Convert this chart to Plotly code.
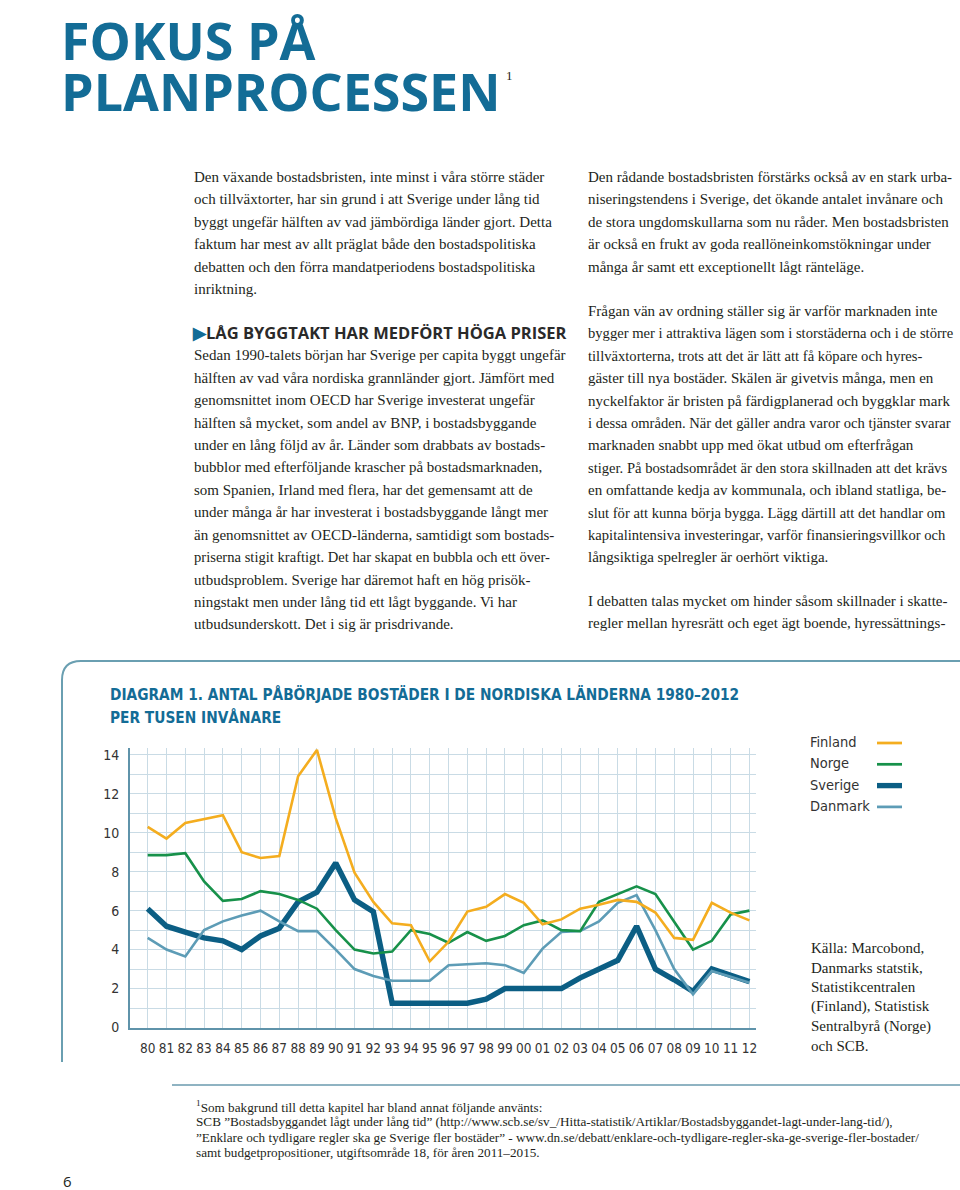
import plotly.graph_objects as go

# ---------------- data ----------------
years = list(range(1980, 2013))
year_labels = [f"{y % 100:02d}" for y in years]

finland = [10.3, 9.7, 10.5, 10.7, 10.9, 9.0, 8.7, 8.8, 12.9, 14.25, 10.75, 7.95, 6.45, 5.35, 5.25, 3.4,
           4.4, 5.95, 6.2, 6.85, 6.4, 5.3, 5.55, 6.1, 6.3, 6.55, 6.45, 5.9, 4.6, 4.5, 6.4, 5.9, 5.5]
norge = [8.85, 8.85, 8.95, 7.5, 6.5, 6.6, 7.0, 6.85, 6.55, 6.1, 5.0, 4.0, 3.8, 3.9, 5.0, 4.8,
         4.35, 4.9, 4.45, 4.7, 5.25, 5.5, 5.0, 4.95, 6.45, 6.85, 7.25, 6.85, 5.4, 4.0, 4.45, 5.8, 6.0]
sverige = [6.1, 5.2, 4.9, 4.6, 4.45, 4.0, 4.7, 5.1, 6.45, 6.95, 8.45, 6.55, 5.95, 1.25, 1.25, 1.25,
           1.25, 1.25, 1.45, 2.0, 2.0, 2.0, 2.0, 2.55, 3.0, 3.45, 5.2, 3.0, 2.45, 1.85, 3.0, 2.7, 2.35]
danmark = [4.6, 4.0, 3.65, 5.0, 5.45, 5.75, 6.0, 5.45, 4.95, 4.95, 4.0, 3.0, 2.65, 2.4, 2.4, 2.4,
           3.2, 3.25, 3.3, 3.2, 2.8, 4.05, 4.9, 4.95, 5.45, 6.4, 6.8, 5.0, 3.0, 1.7, 2.9, 2.6, 2.3]

series_names = ["Finland", "Norge", "Sverige", "Danmark"]
y_ticks = [0, 2, 4, 6, 8, 10, 12, 14]

left_col_p1 = [
    "Den växande bostadsbristen, inte minst i våra större städer",
    "och tillväxtorter, har sin grund i att Sverige under lång tid",
    "byggt ungefär hälften av vad jämbördiga länder gjort. Detta",
    "faktum har mest av allt präglat både den bostadspolitiska",
    "debatten och den förra mandatperiodens bostadspolitiska",
    "inriktning.",
]
left_heading = "LÅG BYGGTAKT HAR MEDFÖRT HÖGA PRISER"
left_col_p2 = [
    "Sedan 1990-talets början har Sverige per capita byggt ungefär",
    "hälften av vad våra nordiska grannländer gjort. Jämfört med",
    "genomsnittet inom OECD har Sverige investerat ungefär",
    "hälften så mycket, som andel av BNP, i bostadsbyggande",
    "under en lång följd av år. Länder som drabbats av bostads-",
    "bubblor med efterföljande krascher på bostadsmarknaden,",
    "som Spanien, Irland med flera, har det gemensamt att de",
    "under många år har investerat i bostadsbyggande långt mer",
    "än genomsnittet av OECD-länderna, samtidigt som bostads-",
    "priserna stigit kraftigt. Det har skapat en bubbla och ett över-",
    "utbudsproblem. Sverige har däremot haft en hög prisök-",
    "ningstakt men under lång tid ett lågt byggande. Vi har",
    "utbudsunderskott. Det i sig är prisdrivande.",
]
right_col_p1 = [
    "Den rådande bostadsbristen förstärks också av en stark urba-",
    "niseringstendens i Sverige, det ökande antalet invånare och",
    "de stora ungdomskullarna som nu råder. Men bostadsbristen",
    "är också en frukt av goda reallöneinkomstökningar under",
    "många år samt ett exceptionellt lågt ränteläge.",
]
right_col_p2 = [
    "Frågan vän av ordning ställer sig är varför marknaden inte",
    "bygger mer i attraktiva lägen som i storstäderna och i de större",
    "tillväxtorterna, trots att det är lätt att få köpare och hyres-",
    "gäster till nya bostäder. Skälen är givetvis många, men en",
    "nyckelfaktor är bristen på färdigplanerad och byggklar mark",
    "i dessa områden. När det gäller andra varor och tjänster svarar",
    "marknaden snabbt upp med ökat utbud om efterfrågan",
    "stiger. På bostadsområdet är den stora skillnaden att det krävs",
    "en omfattande kedja av kommunala, och ibland statliga, be-",
    "slut för att kunna börja bygga. Lägg därtill att det handlar om",
    "kapitalintensiva investeringar, varför finansieringsvillkor och",
    "långsiktiga spelregler är oerhört viktiga.",
]
right_col_p3 = [
    "I debatten talas mycket om hinder såsom skillnader i skatte-",
    "regler mellan hyresrätt och eget ägt boende, hyressättnings-",
]
source_lines = [
    "Källa: Marcobond,",
    "Danmarks statstik,",
    "Statistikcentralen",
    "(Finland), Statistisk",
    "Sentralbyrå (Norge)",
    "och SCB.",
]
footnote_lines = [
    "<sup>1</sup>Som bakgrund till detta kapitel har bland annat följande använts:",
    "SCB ”Bostadsbyggandet lågt under lång tid” (http://www.scb.se/sv_/Hitta-statistik/Artiklar/Bostadsbyggandet-lagt-under-lang-tid/),",
    "”Enklare och tydligare regler ska ge Sverige fler bostäder” - www.dn.se/debatt/enklare-och-tydligare-regler-ska-ge-sverige-fler-bostader/",
    "samt budgetpropositioner, utgiftsområde 18, för åren 2011–2015.",
]

# ---------------- styling ----------------
W, H = 960, 1190
MB = 8                      # bottom margin
PH = H - MB                 # height of the paper (plot) area
BLUE = "#136c96"
TEXT = "#231f20"
SERIF = "Liberation Serif, DejaVu Serif, serif"
SANS = "Open Sans, Noto Sans, sans-serif"
NARROW = "DejaVu Sans Condensed, Liberation Sans Narrow, Roboto, sans-serif"
GRID = "#c9dbe5"
AXIS = "#5f93aa"
colors = {"Finland": "#f4ad1f", "Norge": "#17914a", "Sverige": "#0b5e84", "Danmark": "#5d9cb6"}
widths = {"Finland": 2.6, "Norge": 2.6, "Sverige": 5.5, "Danmark": 2.6}


def px(x):
    return x / W


def py(y):
    return 1 - y / PH


annotations = []


def text(x, y, s, size, family=SERIF, color=TEXT, xanchor="left", weight="normal"):
    annotations.append(dict(
        x=px(x), y=py(y), xref="paper", yref="paper", text=s, showarrow=False,
        xanchor=xanchor, yanchor="middle", align="left",
        font=dict(size=size, family=family, color=color, weight=weight),
    ))


def body_size(s):
    # long lines set slightly tighter so they stay inside the column
    return 14.6 if len(s) >= 62 else 15


# Title
text(59, 39, "FOKUS PÅ", 52, SANS, BLUE, weight="bold")
text(59, 90, "PLANPROCESSEN", 52, SANS, BLUE, weight="bold")
text(504, 75, "1", 13, SERIF, TEXT)

LH = 22.4
for i, s in enumerate(left_col_p1):
    text(192, 177 + i * LH, s, body_size(s))
text(190, 332, f"<span style='color:{BLUE}'>▶</span>{left_heading}", 16.5, SANS, "#2a2a2a", weight="bold")
for i, s in enumerate(left_col_p2):
    text(192, 355.5 + i * LH, s, body_size(s))
for i, s in enumerate(right_col_p1):
    text(586, 177 + i * LH, s, body_size(s))
for i, s in enumerate(right_col_p2):
    text(586, 311 + i * LH, s, body_size(s))
for i, s in enumerate(right_col_p3):
    text(586, 601 + i * LH, s, body_size(s))

# Diagram title
text(108, 694, "DIAGRAM 1. ANTAL PÅBÖRJADE BOSTÄDER I DE NORDISKA LÄNDERNA 1980–2012", 15.3, NARROW, BLUE, weight="bold")
text(108, 717, "PER TUSEN INVÅNARE", 15.3, NARROW, BLUE, weight="bold")

# Legend (text + swatches)
shapes = []
for i, name in enumerate(series_names):
    yy = 742 + i * 21.3
    text(808, yy, name, 14.5, NARROW, "#333333")
    shapes.append(dict(type="line", xref="paper", yref="paper", x0=px(877), x1=px(902), y0=py(yy + 1), y1=py(yy + 1),
                       line=dict(color=colors[name], width=widths[name] * 0.9 + 0.4)))

for i, s in enumerate(source_lines):
    text(809, 948 + i * 19.6, s, 15, SERIF, TEXT)

for i, s in enumerate(footnote_lines):
    text(194, 1106 + i * 15.6, s, 13.2, SERIF, TEXT)

text(61, 1181, "6", 15, SANS, TEXT)

# Box borders
shapes.append(dict(type="path", xref="paper", yref="paper",
                   path=f"M {px(62)},{py(1062)} L {px(62)},{py(680)} Q {px(62)},{py(661)} {px(81)},{py(661)} L {px(960)},{py(661)}",
                   line=dict(color="#6a9fb1", width=2)))
shapes.append(dict(type="line", xref="paper", yref="paper", x0=px(172), x1=px(960), y0=py(1085), y1=py(1085),
                   line=dict(color="#8fb3c2", width=2)))

# ---------------- chart ----------------
fig = go.Figure()
data = {"Finland": finland, "Norge": norge, "Sverige": sverige, "Danmark": danmark}
for name in ["Sverige", "Danmark", "Norge", "Finland"]:
    fig.add_trace(go.Scatter(x=years, y=data[name], mode="lines", name=name,
                             line=dict(color=colors[name], width=widths[name]),
                             showlegend=False, hoverinfo="skip"))

fig.update_layout(
    width=W, height=H,
    margin=dict(l=0, r=0, t=0, b=MB),
    paper_bgcolor="white", plot_bgcolor="white",
    showlegend=False,
    annotations=annotations,
    shapes=shapes,
    xaxis=dict(domain=[px(130), px(756)], range=[1979.06, 2012.35],
               tickvals=years, ticktext=year_labels, tickangle=0,
               showgrid=True, gridcolor=GRID, gridwidth=1,
               showline=True, linecolor=AXIS, linewidth=2, zeroline=False, ticks="",
               ticklabelstandoff=7, automargin=False,
               tickfont=dict(size=13.5, family=NARROW, color="#333333")),
    yaxis=dict(domain=[py(1027.5), py(748)], range=[0, 14.35],
               tickvals=y_ticks, showgrid=True, gridcolor=GRID, gridwidth=1,
               minor=dict(dtick=1, tick0=0, showgrid=True, gridcolor=GRID, gridwidth=1),
               showline=True, linecolor=AXIS, linewidth=2, zeroline=False, ticks="",
               ticklabelstandoff=6, automargin=False,
               tickfont=dict(size=14, family=NARROW, color="#333333")),
)

fig.write_html("out.html", config={"displayModeBar": False},
               post_script="document.body.style.margin='0';document.body.style.overflow='hidden';")
